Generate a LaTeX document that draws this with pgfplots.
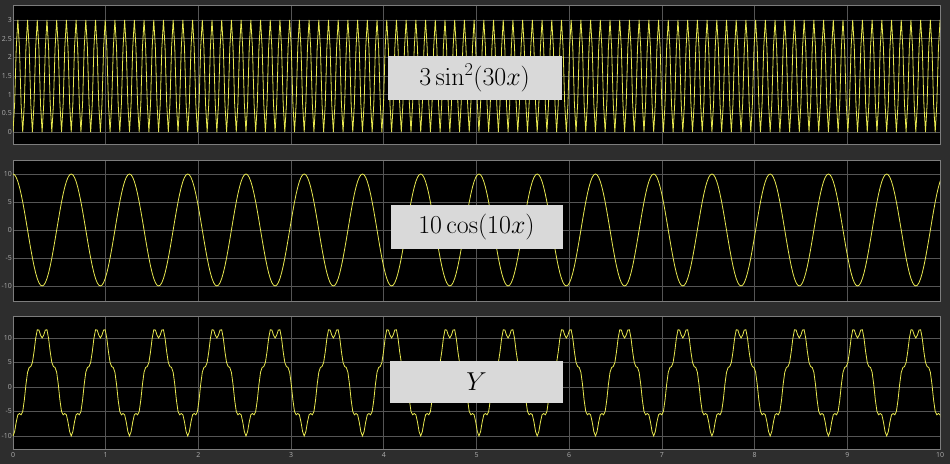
\documentclass[border=0pt]{standalone}
\usepackage{fix-cm}
\usepackage[no-math]{fontspec}
\usepackage{pgfplots}
\usepackage{pgfplotstable}
\pgfplotsset{compat=1.18}
\newfontfamily\tickfont{Open Sans}
\definecolor{bg}{RGB}{45,45,45}
\definecolor{framegray}{RGB}{125,125,125}
\definecolor{gridgray}{RGB}{85,85,85}
\definecolor{labgray}{RGB}{175,175,175}
\definecolor{sigyellow}{RGB}{232,232,80}
\definecolor{boxgray}{RGB}{217,217,217}
% x in units of pi/180 (x_deg = x * 180/pi); columns: a = 3 sin^2(30x), b = 10 cos(10x), y = Y
\pgfplotstableread{
x a b y
0 0 10 -10
1 0.75 9.848 -9.098
2 2.25 9.397 -7.147
3 3 8.66 -5.66
4 2.25 7.66 -5.41
5 0.75 6.428 -5.678
6 0 5 -5
7 0.75 3.42 -2.67
8 2.25 1.736 0.514
9 3 0 3
10 2.25 -1.736 3.986
11 0.75 -3.42 4.17
12 0 -5 5
13 0.75 -6.428 7.178
14 2.25 -7.66 9.91
15 3 -8.66 11.66
16 2.25 -9.397 11.647
17 0.75 -9.848 10.598
18 0 -10 10
19 0.75 -9.848 10.598
20 2.25 -9.397 11.647
21 3 -8.66 11.66
22 2.25 -7.66 9.91
23 0.75 -6.428 7.178
24 0 -5 5
25 0.75 -3.42 4.17
26 2.25 -1.736 3.986
27 3 0 3
28 2.25 1.736 0.514
29 0.75 3.42 -2.67
30 0 5 -5
31 0.75 6.428 -5.678
32 2.25 7.66 -5.41
33 3 8.66 -5.66
34 2.25 9.397 -7.147
35 0.75 9.848 -9.098
36 0 10 -10
37 0.75 9.848 -9.098
38 2.25 9.397 -7.147
39 3 8.66 -5.66
40 2.25 7.66 -5.41
41 0.75 6.428 -5.678
42 0 5 -5
43 0.75 3.42 -2.67
44 2.25 1.736 0.514
45 3 0 3
46 2.25 -1.736 3.986
47 0.75 -3.42 4.17
48 0 -5 5
49 0.75 -6.428 7.178
50 2.25 -7.66 9.91
51 3 -8.66 11.66
52 2.25 -9.397 11.647
53 0.75 -9.848 10.598
54 0 -10 10
55 0.75 -9.848 10.598
56 2.25 -9.397 11.647
57 3 -8.66 11.66
58 2.25 -7.66 9.91
59 0.75 -6.428 7.178
60 0 -5 5
61 0.75 -3.42 4.17
62 2.25 -1.736 3.986
63 3 0 3
64 2.25 1.736 0.514
65 0.75 3.42 -2.67
66 0 5 -5
67 0.75 6.428 -5.678
68 2.25 7.66 -5.41
69 3 8.66 -5.66
70 2.25 9.397 -7.147
71 0.75 9.848 -9.098
72 0 10 -10
73 0.75 9.848 -9.098
74 2.25 9.397 -7.147
75 3 8.66 -5.66
76 2.25 7.66 -5.41
77 0.75 6.428 -5.678
78 0 5 -5
79 0.75 3.42 -2.67
80 2.25 1.736 0.514
81 3 0 3
82 2.25 -1.736 3.986
83 0.75 -3.42 4.17
84 0 -5 5
85 0.75 -6.428 7.178
86 2.25 -7.66 9.91
87 3 -8.66 11.66
88 2.25 -9.397 11.647
89 0.75 -9.848 10.598
90 0 -10 10
91 0.75 -9.848 10.598
92 2.25 -9.397 11.647
93 3 -8.66 11.66
94 2.25 -7.66 9.91
95 0.75 -6.428 7.178
96 0 -5 5
97 0.75 -3.42 4.17
98 2.25 -1.736 3.986
99 3 0 3
100 2.25 1.736 0.514
101 0.75 3.42 -2.67
102 0 5 -5
103 0.75 6.428 -5.678
104 2.25 7.66 -5.41
105 3 8.66 -5.66
106 2.25 9.397 -7.147
107 0.75 9.848 -9.098
108 0 10 -10
109 0.75 9.848 -9.098
110 2.25 9.397 -7.147
111 3 8.66 -5.66
112 2.25 7.66 -5.41
113 0.75 6.428 -5.678
114 0 5 -5
115 0.75 3.42 -2.67
116 2.25 1.736 0.514
117 3 0 3
118 2.25 -1.736 3.986
119 0.75 -3.42 4.17
120 0 -5 5
121 0.75 -6.428 7.178
122 2.25 -7.66 9.91
123 3 -8.66 11.66
124 2.25 -9.397 11.647
125 0.75 -9.848 10.598
126 0 -10 10
127 0.75 -9.848 10.598
128 2.25 -9.397 11.647
129 3 -8.66 11.66
130 2.25 -7.66 9.91
131 0.75 -6.428 7.178
132 0 -5 5
133 0.75 -3.42 4.17
134 2.25 -1.736 3.986
135 3 0 3
136 2.25 1.736 0.514
137 0.75 3.42 -2.67
138 0 5 -5
139 0.75 6.428 -5.678
140 2.25 7.66 -5.41
141 3 8.66 -5.66
142 2.25 9.397 -7.147
143 0.75 9.848 -9.098
144 0 10 -10
145 0.75 9.848 -9.098
146 2.25 9.397 -7.147
147 3 8.66 -5.66
148 2.25 7.66 -5.41
149 0.75 6.428 -5.678
150 0 5 -5
151 0.75 3.42 -2.67
152 2.25 1.736 0.514
153 3 0 3
154 2.25 -1.736 3.986
155 0.75 -3.42 4.17
156 0 -5 5
157 0.75 -6.428 7.178
158 2.25 -7.66 9.91
159 3 -8.66 11.66
160 2.25 -9.397 11.647
161 0.75 -9.848 10.598
162 0 -10 10
163 0.75 -9.848 10.598
164 2.25 -9.397 11.647
165 3 -8.66 11.66
166 2.25 -7.66 9.91
167 0.75 -6.428 7.178
168 0 -5 5
169 0.75 -3.42 4.17
170 2.25 -1.736 3.986
171 3 0 3
172 2.25 1.736 0.514
173 0.75 3.42 -2.67
174 0 5 -5
175 0.75 6.428 -5.678
176 2.25 7.66 -5.41
177 3 8.66 -5.66
178 2.25 9.397 -7.147
179 0.75 9.848 -9.098
180 0 10 -10
181 0.75 9.848 -9.098
182 2.25 9.397 -7.147
183 3 8.66 -5.66
184 2.25 7.66 -5.41
185 0.75 6.428 -5.678
186 0 5 -5
187 0.75 3.42 -2.67
188 2.25 1.736 0.514
189 3 0 3
190 2.25 -1.736 3.986
191 0.75 -3.42 4.17
192 0 -5 5
193 0.75 -6.428 7.178
194 2.25 -7.66 9.91
195 3 -8.66 11.66
196 2.25 -9.397 11.647
197 0.75 -9.848 10.598
198 0 -10 10
199 0.75 -9.848 10.598
200 2.25 -9.397 11.647
201 3 -8.66 11.66
202 2.25 -7.66 9.91
203 0.75 -6.428 7.178
204 0 -5 5
205 0.75 -3.42 4.17
206 2.25 -1.736 3.986
207 3 0 3
208 2.25 1.736 0.514
209 0.75 3.42 -2.67
210 0 5 -5
211 0.75 6.428 -5.678
212 2.25 7.66 -5.41
213 3 8.66 -5.66
214 2.25 9.397 -7.147
215 0.75 9.848 -9.098
216 0 10 -10
217 0.75 9.848 -9.098
218 2.25 9.397 -7.147
219 3 8.66 -5.66
220 2.25 7.66 -5.41
221 0.75 6.428 -5.678
222 0 5 -5
223 0.75 3.42 -2.67
224 2.25 1.736 0.514
225 3 0 3
226 2.25 -1.736 3.986
227 0.75 -3.42 4.17
228 0 -5 5
229 0.75 -6.428 7.178
230 2.25 -7.66 9.91
231 3 -8.66 11.66
232 2.25 -9.397 11.647
233 0.75 -9.848 10.598
234 0 -10 10
235 0.75 -9.848 10.598
236 2.25 -9.397 11.647
237 3 -8.66 11.66
238 2.25 -7.66 9.91
239 0.75 -6.428 7.178
240 0 -5 5
241 0.75 -3.42 4.17
242 2.25 -1.736 3.986
243 3 0 3
244 2.25 1.736 0.514
245 0.75 3.42 -2.67
246 0 5 -5
247 0.75 6.428 -5.678
248 2.25 7.66 -5.41
249 3 8.66 -5.66
250 2.25 9.397 -7.147
251 0.75 9.848 -9.098
252 0 10 -10
253 0.75 9.848 -9.098
254 2.25 9.397 -7.147
255 3 8.66 -5.66
256 2.25 7.66 -5.41
257 0.75 6.428 -5.678
258 0 5 -5
259 0.75 3.42 -2.67
260 2.25 1.736 0.514
261 3 0 3
262 2.25 -1.736 3.986
263 0.75 -3.42 4.17
264 0 -5 5
265 0.75 -6.428 7.178
266 2.25 -7.66 9.91
267 3 -8.66 11.66
268 2.25 -9.397 11.647
269 0.75 -9.848 10.598
270 0 -10 10
271 0.75 -9.848 10.598
272 2.25 -9.397 11.647
273 3 -8.66 11.66
274 2.25 -7.66 9.91
275 0.75 -6.428 7.178
276 0 -5 5
277 0.75 -3.42 4.17
278 2.25 -1.736 3.986
279 3 0 3
280 2.25 1.736 0.514
281 0.75 3.42 -2.67
282 0 5 -5
283 0.75 6.428 -5.678
284 2.25 7.66 -5.41
285 3 8.66 -5.66
286 2.25 9.397 -7.147
287 0.75 9.848 -9.098
288 0 10 -10
289 0.75 9.848 -9.098
290 2.25 9.397 -7.147
291 3 8.66 -5.66
292 2.25 7.66 -5.41
293 0.75 6.428 -5.678
294 0 5 -5
295 0.75 3.42 -2.67
296 2.25 1.736 0.514
297 3 0 3
298 2.25 -1.736 3.986
299 0.75 -3.42 4.17
300 0 -5 5
301 0.75 -6.428 7.178
302 2.25 -7.66 9.91
303 3 -8.66 11.66
304 2.25 -9.397 11.647
305 0.75 -9.848 10.598
306 0 -10 10
307 0.75 -9.848 10.598
308 2.25 -9.397 11.647
309 3 -8.66 11.66
310 2.25 -7.66 9.91
311 0.75 -6.428 7.178
312 0 -5 5
313 0.75 -3.42 4.17
314 2.25 -1.736 3.986
315 3 0 3
316 2.25 1.736 0.514
317 0.75 3.42 -2.67
318 0 5 -5
319 0.75 6.428 -5.678
320 2.25 7.66 -5.41
321 3 8.66 -5.66
322 2.25 9.397 -7.147
323 0.75 9.848 -9.098
324 0 10 -10
325 0.75 9.848 -9.098
326 2.25 9.397 -7.147
327 3 8.66 -5.66
328 2.25 7.66 -5.41
329 0.75 6.428 -5.678
330 0 5 -5
331 0.75 3.42 -2.67
332 2.25 1.736 0.514
333 3 0 3
334 2.25 -1.736 3.986
335 0.75 -3.42 4.17
336 0 -5 5
337 0.75 -6.428 7.178
338 2.25 -7.66 9.91
339 3 -8.66 11.66
340 2.25 -9.397 11.647
341 0.75 -9.848 10.598
342 0 -10 10
343 0.75 -9.848 10.598
344 2.25 -9.397 11.647
345 3 -8.66 11.66
346 2.25 -7.66 9.91
347 0.75 -6.428 7.178
348 0 -5 5
349 0.75 -3.42 4.17
350 2.25 -1.736 3.986
351 3 0 3
352 2.25 1.736 0.514
353 0.75 3.42 -2.67
354 0 5 -5
355 0.75 6.428 -5.678
356 2.25 7.66 -5.41
357 3 8.66 -5.66
358 2.25 9.397 -7.147
359 0.75 9.848 -9.098
360 0 10 -10
361 0.75 9.848 -9.098
362 2.25 9.397 -7.147
363 3 8.66 -5.66
364 2.25 7.66 -5.41
365 0.75 6.428 -5.678
366 0 5 -5
367 0.75 3.42 -2.67
368 2.25 1.736 0.514
369 3 0 3
370 2.25 -1.736 3.986
371 0.75 -3.42 4.17
372 0 -5 5
373 0.75 -6.428 7.178
374 2.25 -7.66 9.91
375 3 -8.66 11.66
376 2.25 -9.397 11.647
377 0.75 -9.848 10.598
378 0 -10 10
379 0.75 -9.848 10.598
380 2.25 -9.397 11.647
381 3 -8.66 11.66
382 2.25 -7.66 9.91
383 0.75 -6.428 7.178
384 0 -5 5
385 0.75 -3.42 4.17
386 2.25 -1.736 3.986
387 3 0 3
388 2.25 1.736 0.514
389 0.75 3.42 -2.67
390 0 5 -5
391 0.75 6.428 -5.678
392 2.25 7.66 -5.41
393 3 8.66 -5.66
394 2.25 9.397 -7.147
395 0.75 9.848 -9.098
396 0 10 -10
397 0.75 9.848 -9.098
398 2.25 9.397 -7.147
399 3 8.66 -5.66
400 2.25 7.66 -5.41
401 0.75 6.428 -5.678
402 0 5 -5
403 0.75 3.42 -2.67
404 2.25 1.736 0.514
405 3 0 3
406 2.25 -1.736 3.986
407 0.75 -3.42 4.17
408 0 -5 5
409 0.75 -6.428 7.178
410 2.25 -7.66 9.91
411 3 -8.66 11.66
412 2.25 -9.397 11.647
413 0.75 -9.848 10.598
414 0 -10 10
415 0.75 -9.848 10.598
416 2.25 -9.397 11.647
417 3 -8.66 11.66
418 2.25 -7.66 9.91
419 0.75 -6.428 7.178
420 0 -5 5
421 0.75 -3.42 4.17
422 2.25 -1.736 3.986
423 3 0 3
424 2.25 1.736 0.514
425 0.75 3.42 -2.67
426 0 5 -5
427 0.75 6.428 -5.678
428 2.25 7.66 -5.41
429 3 8.66 -5.66
430 2.25 9.397 -7.147
431 0.75 9.848 -9.098
432 0 10 -10
433 0.75 9.848 -9.098
434 2.25 9.397 -7.147
435 3 8.66 -5.66
436 2.25 7.66 -5.41
437 0.75 6.428 -5.678
438 0 5 -5
439 0.75 3.42 -2.67
440 2.25 1.736 0.514
441 3 0 3
442 2.25 -1.736 3.986
443 0.75 -3.42 4.17
444 0 -5 5
445 0.75 -6.428 7.178
446 2.25 -7.66 9.91
447 3 -8.66 11.66
448 2.25 -9.397 11.647
449 0.75 -9.848 10.598
450 0 -10 10
451 0.75 -9.848 10.598
452 2.25 -9.397 11.647
453 3 -8.66 11.66
454 2.25 -7.66 9.91
455 0.75 -6.428 7.178
456 0 -5 5
457 0.75 -3.42 4.17
458 2.25 -1.736 3.986
459 3 0 3
460 2.25 1.736 0.514
461 0.75 3.42 -2.67
462 0 5 -5
463 0.75 6.428 -5.678
464 2.25 7.66 -5.41
465 3 8.66 -5.66
466 2.25 9.397 -7.147
467 0.75 9.848 -9.098
468 0 10 -10
469 0.75 9.848 -9.098
470 2.25 9.397 -7.147
471 3 8.66 -5.66
472 2.25 7.66 -5.41
473 0.75 6.428 -5.678
474 0 5 -5
475 0.75 3.42 -2.67
476 2.25 1.736 0.514
477 3 0 3
478 2.25 -1.736 3.986
479 0.75 -3.42 4.17
480 0 -5 5
481 0.75 -6.428 7.178
482 2.25 -7.66 9.91
483 3 -8.66 11.66
484 2.25 -9.397 11.647
485 0.75 -9.848 10.598
486 0 -10 10
487 0.75 -9.848 10.598
488 2.25 -9.397 11.647
489 3 -8.66 11.66
490 2.25 -7.66 9.91
491 0.75 -6.428 7.178
492 0 -5 5
493 0.75 -3.42 4.17
494 2.25 -1.736 3.986
495 3 0 3
496 2.25 1.736 0.514
497 0.75 3.42 -2.67
498 0 5 -5
499 0.75 6.428 -5.678
500 2.25 7.66 -5.41
501 3 8.66 -5.66
502 2.25 9.397 -7.147
503 0.75 9.848 -9.098
504 0 10 -10
505 0.75 9.848 -9.098
506 2.25 9.397 -7.147
507 3 8.66 -5.66
508 2.25 7.66 -5.41
509 0.75 6.428 -5.678
510 0 5 -5
511 0.75 3.42 -2.67
512 2.25 1.736 0.514
513 3 0 3
514 2.25 -1.736 3.986
515 0.75 -3.42 4.17
516 0 -5 5
517 0.75 -6.428 7.178
518 2.25 -7.66 9.91
519 3 -8.66 11.66
520 2.25 -9.397 11.647
521 0.75 -9.848 10.598
522 0 -10 10
523 0.75 -9.848 10.598
524 2.25 -9.397 11.647
525 3 -8.66 11.66
526 2.25 -7.66 9.91
527 0.75 -6.428 7.178
528 0 -5 5
529 0.75 -3.42 4.17
530 2.25 -1.736 3.986
531 3 0 3
532 2.25 1.736 0.514
533 0.75 3.42 -2.67
534 0 5 -5
535 0.75 6.428 -5.678
536 2.25 7.66 -5.41
537 3 8.66 -5.66
538 2.25 9.397 -7.147
539 0.75 9.848 -9.098
540 0 10 -10
541 0.75 9.848 -9.098
542 2.25 9.397 -7.147
543 3 8.66 -5.66
544 2.25 7.66 -5.41
545 0.75 6.428 -5.678
546 0 5 -5
547 0.75 3.42 -2.67
548 2.25 1.736 0.514
549 3 0 3
550 2.25 -1.736 3.986
551 0.75 -3.42 4.17
552 0 -5 5
553 0.75 -6.428 7.178
554 2.25 -7.66 9.91
555 3 -8.66 11.66
556 2.25 -9.397 11.647
557 0.75 -9.848 10.598
558 0 -10 10
559 0.75 -9.848 10.598
560 2.25 -9.397 11.647
561 3 -8.66 11.66
562 2.25 -7.66 9.91
563 0.75 -6.428 7.178
564 0 -5 5
565 0.75 -3.42 4.17
566 2.25 -1.736 3.986
567 3 0 3
568 2.25 1.736 0.514
569 0.75 3.42 -2.67
570 0 5 -5
571 0.75 6.428 -5.678
572 2.25 7.66 -5.41
573 3 8.66 -5.66
574 2.25 9.397 -7.147
575 0.75 9.848 -9.098
}\data

\pgfplotsset{
  scopeax/.style={
    scale only axis,
    width=927bp,
    xmin=0, xmax=572.9578,
    axis background/.style={fill=black},
    axis line style={framegray, line width=0.8bp},
    grid=major,
    grid style={gridgray, line width=0.7bp},
    major tick length=0pt,
    xtick={0,57.2958,114.5916,171.8873,229.1831,286.4789,343.7747,401.0705,458.3662,515.6620,572.9578},
    /pgf/number format/assume math mode=true,
    yticklabel style={font=\tickfont\fontsize{7}{8}\selectfont, text=labgray, inner sep=1bp},
    xticklabel style={font=\tickfont\fontsize{7}{8}\selectfont, text=labgray, inner sep=1bp, yshift=-2bp},
    clip=true,
  },
  sig/.style={sigyellow, line width=0.8bp, no markers},
}
\tikzset{lab/.style={fill=boxgray, text=black, inner sep=0pt, font=\fontsize{26}{30}\selectfont}}

\begin{document}
\begin{tikzpicture}
\useasboundingbox (0,0) rectangle (950bp,464bp);
\fill[bg] (0,0) rectangle (950bp,464bp);

\begin{axis}[scopeax, at={(13bp,459bp)}, anchor=north west, height=139bp,
  ymin=-0.32, ymax=3.4, ytick={0,0.5,1,1.5,2,2.5,3}, xticklabels={}]
\addplot[sig] table[x=x,y=a]{\data};
\node[lab, minimum width=174bp, minimum height=44bp] at (rel axis cs:0.498,0.475) {$3\sin^2(30x)$};
\end{axis}

\begin{axis}[scopeax, at={(13bp,304bp)}, anchor=north west, height=141bp,
  ymin=-12.68, ymax=12.5, ytick={-10,-5,0,5,10}, xticklabels={}]
\addplot[sig] table[x=x,y=b]{\data};
\node[lab, minimum width=172bp, minimum height=44bp] at (rel axis cs:0.5,0.525) {$10\cos(10x)$};
\end{axis}

\begin{axis}[scopeax, at={(13bp,148bp)}, anchor=north west, height=133bp,
  ymin=-12.65, ymax=14.49, ytick={-10,-5,0,5,10},
  xticklabels={0,1,2,3,4,5,6,7,8,9,10}]
\addplot[sig] table[x=x,y=y]{\data};
\node[lab, minimum width=173bp, minimum height=42bp] at (rel axis cs:0.5,0.504) {$Y$};
\end{axis}
\end{tikzpicture}
\end{document}
